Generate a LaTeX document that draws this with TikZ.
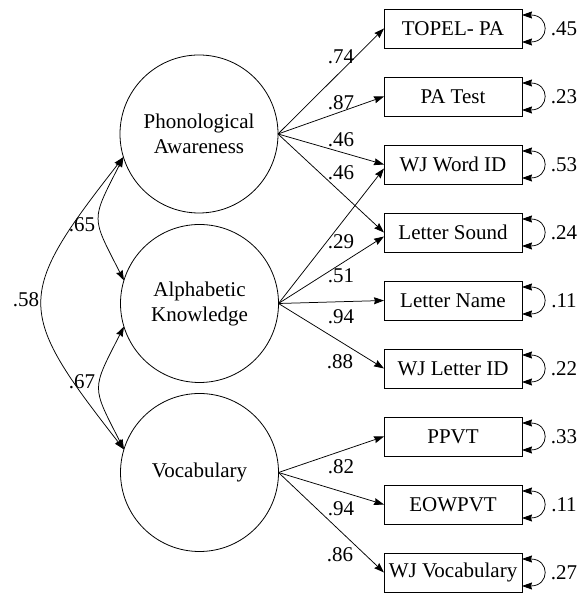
\documentclass[tikz,border=0pt]{standalone}
\usepackage{fontspec}
\setmainfont{Liberation Serif}
\usetikzlibrary{arrows.meta}
\begin{document}
\begin{tikzpicture}[x=1pt,y=1pt,
  every node/.style={font=\fontsize{21}{25}\selectfont},
  latent/.style={circle, draw, line width=0.8pt, minimum size=158pt, inner sep=0pt, outer sep=0pt, align=center},
  obs/.style={rectangle, draw, line width=0.8pt, minimum width=138pt, minimum height=39pt, inner sep=0pt, outer sep=0pt},
  tip/.tip={Stealth[length=10pt,width=7pt,inset=1pt]},
  load/.style={line width=0.75pt, -tip},
  corr/.style={line width=0.75pt, tip-tip},
  lbl/.style={inner sep=0pt}
]
\useasboundingbox (0,0) rectangle (583,593);

% latent variables
\node[latent] (PA) at (199,459) {Phonological\\Awareness};
\node[latent] (AK) at (199.5,289.5) {Alphabetic\\Knowledge};
\node[latent] (VO) at (199.5,120.5) {Vocabulary};

% observed variables
\node[obs] (b1) at (453,564.5) {TOPEL- PA};
\node[obs] (b2) at (453,496.5) {PA Test};
\node[obs] (b3) at (453,428.5) {WJ Word ID};
\node[obs] (b4) at (453,360.5) {Letter Sound};
\node[obs] (b5) at (453,292.5) {Letter Name};
\node[obs] (b6) at (453,224.5) {WJ Letter ID};
\node[obs] (b7) at (453,156.5) {PPVT};
\node[obs] (b8) at (453,88.5) {EOWPVT};
\node[obs] (b9) at (453,20.5) {WJ Vocabulary};

% loadings
\draw[load] (PA.east) -- (b1.west);
\draw[load] (PA.east) -- (b2.west);
\draw[load] (PA.east) -- (b3.west);
\draw[load] (PA.east) -- (b4.west);
\draw[load] (AK.east) -- ([yshift=-4pt]b3.west);
\draw[load] (AK.east) -- ([yshift=-4pt]b4.west);
\draw[load] (AK.east) -- (b5.west);
\draw[load] (AK.east) -- (b6.west);
\draw[load] (VO.east) -- (b7.west);
\draw[load] (VO.east) -- (b8.west);
\draw[load] (VO.east) -- (b9.west);

% loading labels
\node[lbl] (l1) at (341,536) {.74};
\node[lbl] (l2) at (341,490) {.87};
\node[lbl] (l3) at (341,453) {.46};
\node[lbl] (l4) at (341,420) {.46};
\node[lbl] (l5) at (341,351) {.29};
\node[lbl] (l6) at (341,317) {.51};
\node[lbl] (l7) at (341,276) {.94};
\node[lbl] (l8) at (340,231) {.88};
\node[lbl] (l9) at (341,126) {.82};
\node[lbl] (l10) at (341,84) {.94};
\node[lbl] (l11) at (340,38) {.86};

% correlations
\draw[corr] (PA.197) to[out=243,in=117,looseness=1.5] (AK.163);
\draw[corr] (AK.197) to[out=243,in=117,looseness=1.5] (VO.163);
\draw[corr] (PA.197) to[out=232,in=128,looseness=1.55] (VO.163);
\node[lbl] (c1) at (82,368) {.65};
\node[lbl] (c2) at (82,211) {.67};
\node[lbl] (c3) at (26,293) {.58};

% residual variances
\foreach \b/\v in {b1/.45,b2/.23,b3/.53,b4/.24,b5/.11,b6/.22,b7/.33,b8/.11,b9/.27}{
  \draw[corr] ([yshift=13.5pt]\b.east) .. controls +(28,0) and +(28,0) .. ([yshift=-13.5pt]\b.east);
  \node[lbl] (r\b) at ([xshift=42pt]\b.east) {\v};
}
\end{tikzpicture}
\end{document}
